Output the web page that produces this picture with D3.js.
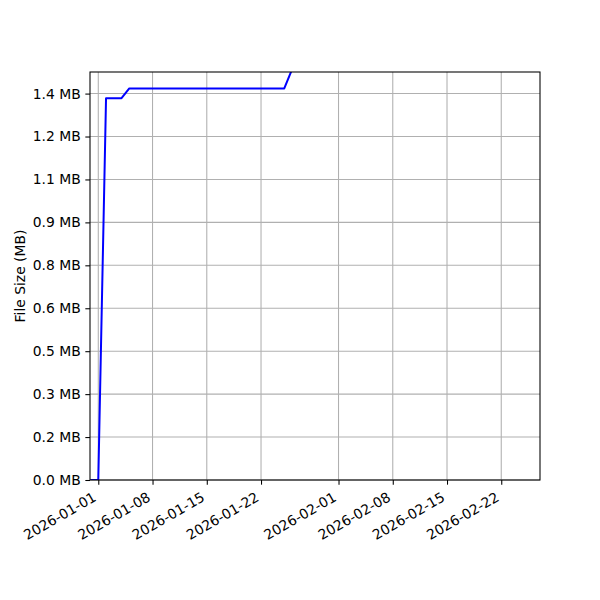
<!DOCTYPE html>
<html>
<head>
<meta charset="utf-8">
<script src="https://cdn.jsdelivr.net/npm/d3@7"></script>
<style>
  body { margin: 0; background: #fff; }
  text { font-family: "DejaVu Sans", sans-serif; font-size: 13.89px; fill: #000; }
</style>
</head>
<body>
<div id="chart"></div>
<script>
// file size history (bytes)
var dates = ["2025-12-31", "2026-01-01", "2026-01-02", "2026-01-04", "2026-01-05", "2026-01-25", "2026-01-26"];
var sizes = [0, 0, 1423000, 1423000, 1459000, 1459000, 1530000];

var xTickLabels = ["2026-01-01", "2026-01-08", "2026-01-15", "2026-01-22",
                   "2026-02-01", "2026-02-08", "2026-02-15", "2026-02-22"];
var yTickValues = [0, 160000, 320000, 480000, 640000, 800000, 960000, 1120000, 1280000, 1440000];

var MiB = 1048576;
var width = 600, height = 600;
var margin = {top: 72, right: 60, bottom: 120, left: 90};
var iw = width - margin.left - margin.right;
var ih = height - margin.top - margin.bottom;

var parse = d3.utcParse("%Y-%m-%d");
var data = dates.map(function(d, i) { return {date: parse(d), size: sizes[i]}; });

var svg = d3.select("#chart").append("svg")
    .attr("width", width)
    .attr("height", height);

var x = d3.scaleUtc()
    .domain([new Date(Date.UTC(2025, 11, 30, 22, 20)), new Date(Date.UTC(2026, 1, 27, 0, 0))])
    .range([0, iw]);

var y = d3.scaleLinear()
    .domain([0, 1.45 * MiB])
    .range([ih, 0]);

var g = svg.append("g").attr("transform", "translate(" + margin.left + "," + margin.top + ")");

svg.append("defs").append("clipPath").attr("id", "clip")
    .append("rect").attr("width", iw).attr("height", ih);

var xTicks = xTickLabels.map(parse);

// grid
g.append("g").selectAll("line").data(xTicks).enter().append("line")
    .attr("x1", function(d) { return x(d); }).attr("x2", function(d) { return x(d); })
    .attr("y1", 0).attr("y2", ih)
    .attr("stroke", "#b0b0b0").attr("stroke-width", 1.07);
g.append("g").selectAll("line").data(yTickValues).enter().append("line")
    .attr("x1", 0).attr("x2", iw)
    .attr("y1", function(d) { return y(d); }).attr("y2", function(d) { return y(d); })
    .attr("stroke", "#b0b0b0").attr("stroke-width", 1.07);

// line
var line = d3.line()
    .x(function(d) { return x(d.date); })
    .y(function(d) { return y(d.size); });

g.append("path")
    .datum(data)
    .attr("clip-path", "url(#clip)")
    .attr("fill", "none")
    .attr("stroke", "#0000ff")
    .attr("stroke-width", 2)
    .attr("stroke-linejoin", "round")
    .attr("d", line);

// axes
var yAxis = g.append("g")
    .call(d3.axisLeft(y).tickValues(yTickValues).tickSize(4.67).tickPadding(4.67)
        .tickFormat(function(d) { return (d / MiB).toFixed(1) + " MB"; }));
yAxis.select(".domain").remove();
yAxis.selectAll("line").attr("stroke-width", 1.07);
yAxis.selectAll("text").attr("font-size", null).attr("font-family", null);

var xAxis = g.append("g")
    .attr("transform", "translate(0," + ih + ")")
    .call(d3.axisBottom(x).tickValues(xTicks).tickSize(4.67)
        .tickFormat(d3.utcFormat("%Y-%m-%d")));
xAxis.select(".domain").remove();
xAxis.selectAll("line").attr("stroke-width", 1.07);
xAxis.selectAll("text")
    .attr("font-size", null).attr("font-family", null)
    .attr("y", null).attr("dy", null)
    .attr("text-anchor", "end")
    .attr("transform", "translate(-1.6,20) rotate(-30)");

// frame
g.append("rect")
    .attr("width", iw).attr("height", ih)
    .attr("fill", "none").attr("stroke", "#000").attr("stroke-width", 1.07);

svg.append("text")
    .attr("transform", "translate(25," + (margin.top + ih / 2) + ") rotate(-90)")
    .attr("text-anchor", "middle")
    .text("File Size (MB)");
</script>
</body>
</html>
